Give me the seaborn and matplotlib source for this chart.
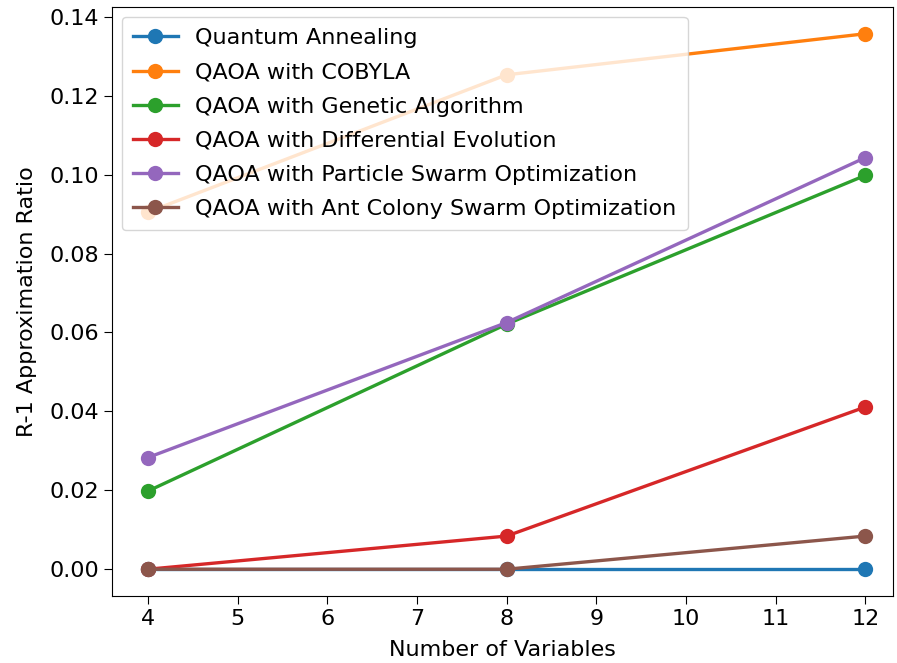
import matplotlib
matplotlib.use("Agg")
import matplotlib.pyplot as plt
import seaborn as sns
import pandas as pd

# Data
n_vars = [4, 8, 12]
quantum_annealing = [0.0, 0.0, 0.0]
qaoa_cobyla = [0.0905, 0.1253, 0.1357]
qaoa_ga = [0.0198, 0.0621, 0.0998]
qaoa_de = [0.0, 0.0084, 0.0411]
qaoa_pso = [0.0283, 0.0625, 0.1043]
qaoa_aco = [0.0, 0.0, 0.0084]

series = {
    "Quantum Annealing": quantum_annealing,
    "QAOA with COBYLA": qaoa_cobyla,
    "QAOA with Genetic Algorithm": qaoa_ga,
    "QAOA with Differential Evolution": qaoa_de,
    "QAOA with Particle Swarm Optimization": qaoa_pso,
    "QAOA with Ant Colony Swarm Optimization": qaoa_aco,
}

plt.rcParams["font.family"] = ["DejaVu Sans"]

fig = plt.figure(figsize=(8.97, 6.63), dpi=100)
ax = fig.add_axes([112 / 897, 1 - 596 / 663, (893 - 112) / 897, (596 - 7) / 663])

colors = sns.color_palette("tab10", 6)
for (name, vals), c in zip(series.items(), colors):
    df = pd.DataFrame({"n": n_vars, "r": vals})
    sns.lineplot(data=df, x="n", y="r", ax=ax, color=c, label=name,
                 marker="o", markersize=11, markeredgecolor=c,
                 markeredgewidth=0, linewidth=2.4)

ax.set_xlabel("Number of Variables", fontsize=16, labelpad=8)
ax.set_ylabel("R-1 Approximation Ratio", fontsize=16, labelpad=9)
ax.tick_params(labelsize=16, length=6)
ax.set_xticks(range(4, 13))
ax.set_xlim(3.6, 12.31)
ax.legend(loc="upper left", fontsize=16, borderaxespad=0.45,
          labelspacing=0.64, borderpad=0.5)

fig.savefig("out.png", dpi=100)
